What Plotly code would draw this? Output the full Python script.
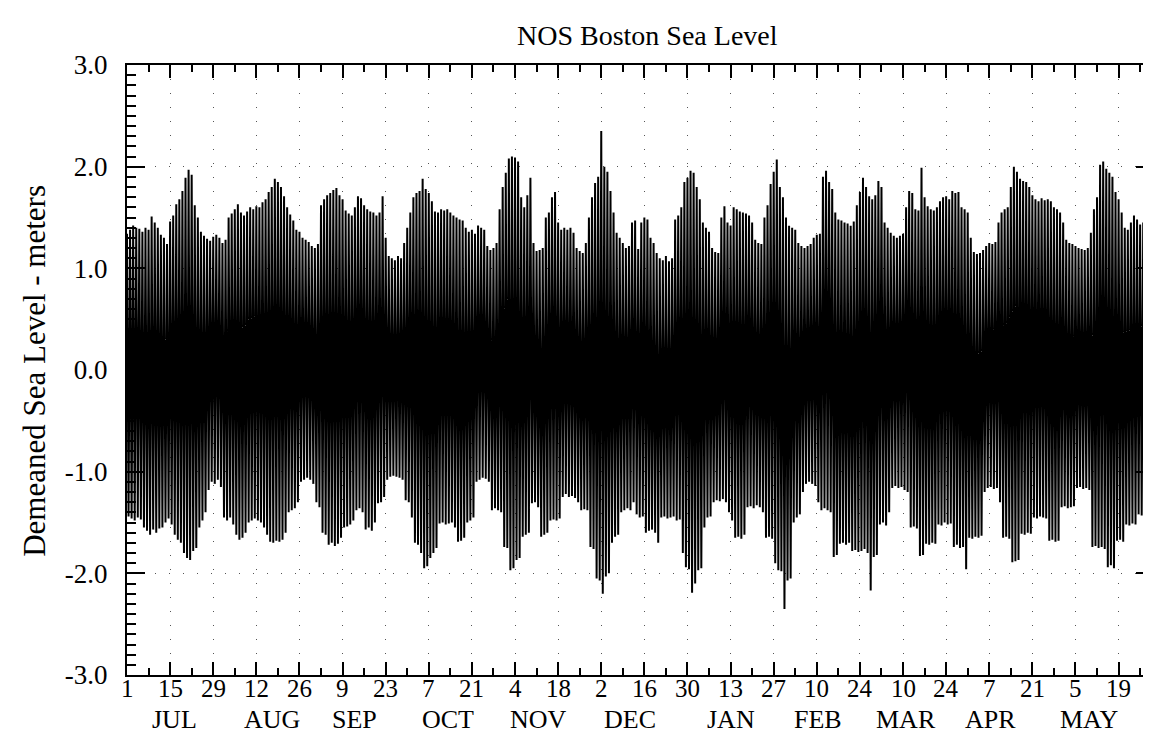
import plotly.graph_objects as go

# Daily maximum (high water) and minimum (low water), metres, day 0 = 1 July
high = [
    1.34, 1.38, 1.42, 1.40, 1.39, 1.36, 1.40, 1.38, 1.51, 1.45,
    1.40, 1.33, 1.30, 1.24, 1.46, 1.52, 1.63, 1.68, 1.76, 1.89,
    1.97, 1.92, 1.62, 1.50, 1.36, 1.32, 1.29, 1.27, 1.31, 1.33,
    1.30, 1.25, 1.28, 1.50, 1.54, 1.58, 1.63, 1.55, 1.52, 1.56,
    1.60, 1.58, 1.61, 1.60, 1.65, 1.68, 1.75, 1.80, 1.88, 1.85,
    1.80, 1.71, 1.60, 1.53, 1.47, 1.38, 1.36, 1.30, 1.28, 1.26,
    1.22, 1.20, 1.24, 1.62, 1.68, 1.72, 1.74, 1.77, 1.79, 1.72,
    1.68, 1.57, 1.54, 1.52, 1.60, 1.71, 1.69, 1.62, 1.58, 1.56,
    1.55, 1.52, 1.55, 1.71, 1.30, 1.12, 1.10, 1.08, 1.12, 1.10,
    1.25, 1.40, 1.55, 1.70, 1.74, 1.76, 1.88, 1.78, 1.74, 1.66,
    1.56, 1.55, 1.58, 1.57, 1.58, 1.55, 1.52, 1.50, 1.48, 1.47,
    1.40, 1.36, 1.38, 1.34, 1.42, 1.40, 1.38, 1.22, 1.18, 1.20,
    1.25, 1.58, 1.80, 1.94, 2.08, 2.10, 2.09, 2.05, 1.70, 1.60,
    1.72, 1.89, 1.25, 1.17, 1.18, 1.20, 1.50, 1.55, 1.70, 1.75,
    1.45, 1.38, 1.40, 1.38, 1.40, 1.35, 1.20, 1.17, 1.15, 1.25,
    1.50, 1.70, 1.84, 1.90, 2.35, 2.00, 1.95, 1.76, 1.55, 1.35,
    1.30, 1.25, 1.20, 1.22, 1.45, 1.47, 1.19, 1.45, 1.50, 1.48,
    1.30, 1.25, 1.15, 1.10, 1.08, 1.12, 1.07, 1.10, 1.48, 1.52,
    1.60, 1.85, 1.89, 1.96, 1.94, 1.80, 1.68, 1.45, 1.40, 1.36,
    1.20, 1.16, 1.15, 1.50, 1.61, 1.45, 1.42, 1.60, 1.58, 1.56,
    1.55, 1.54, 1.52, 1.45, 1.28, 1.25, 1.24, 1.50, 1.62, 1.83,
    1.95, 2.07, 1.80, 1.70, 1.50, 1.42, 1.40, 1.38, 1.25, 1.22,
    1.20, 1.22, 1.24, 1.30, 1.33, 1.34, 1.90, 1.96, 1.85, 1.78,
    1.55, 1.48, 1.47, 1.45, 1.44, 1.42, 1.46, 1.62, 1.75, 1.89,
    1.80, 1.71, 1.68, 1.72, 1.86, 1.80, 1.45, 1.40, 1.35, 1.32,
    1.30, 1.32, 1.34, 1.60, 1.76, 1.74, 1.58, 1.57, 1.99, 1.70,
    1.61, 1.58, 1.57, 1.60, 1.66, 1.70, 1.71, 1.68, 1.76, 1.74,
    1.75, 1.60, 1.58, 1.55, 1.30, 1.16, 1.14, 1.15, 1.18, 1.22,
    1.25, 1.24, 1.26, 1.45, 1.55, 1.58, 1.60, 1.80, 2.00, 1.95,
    1.88, 1.86, 1.85, 1.80, 1.72, 1.68, 1.66, 1.69, 1.67, 1.68,
    1.66, 1.60, 1.58, 1.55, 1.45, 1.28, 1.25, 1.24, 1.22, 1.20,
    1.19, 1.18, 1.20, 1.35, 1.58, 1.70, 2.02, 2.05, 1.98, 1.94,
    1.90, 1.75, 1.68, 1.55, 1.40, 1.38, 1.45, 1.52, 1.48, 1.43,
    1.45, 1.44, 1.48, 1.40,
]

low = [
    -1.44, -1.46, -1.48, -1.45, -1.47, -1.55, -1.58, -1.62, -1.57, -1.60,
    -1.56, -1.55, -1.50, -1.46, -1.52, -1.62, -1.67, -1.70, -1.80, -1.85,
    -1.87, -1.78, -1.75, -1.55, -1.48, -1.40, -1.18, -1.10, -1.12, -1.08,
    -1.15, -1.45, -1.48, -1.45, -1.52, -1.62, -1.67, -1.65, -1.60, -1.50,
    -1.48, -1.46, -1.48, -1.50, -1.55, -1.62, -1.69, -1.70, -1.68, -1.69,
    -1.67, -1.60, -1.40, -1.38, -1.36, -1.30, -1.10, -1.08, -1.06, -1.08,
    -1.12, -1.30, -1.35, -1.60, -1.62, -1.72, -1.70, -1.73, -1.71, -1.65,
    -1.55, -1.54, -1.52, -1.48, -1.38, -1.36, -1.40, -1.57, -1.55, -1.58,
    -1.50, -1.31, -1.30, -1.25, -1.08, -1.05, -1.04, -1.05, -1.06, -1.08,
    -1.28, -1.30, -1.45, -1.70, -1.72, -1.80, -1.95, -1.93, -1.85, -1.80,
    -1.75, -1.51, -1.50, -1.52, -1.51, -1.50, -1.55, -1.69, -1.68, -1.65,
    -1.50, -1.48, -1.45, -1.10, -1.08, -1.06, -1.07, -1.10, -1.38, -1.36,
    -1.38, -1.40, -1.74, -1.75, -1.97, -1.95, -1.87, -1.85, -1.64, -1.62,
    -1.60, -1.31, -1.30, -1.35, -1.64, -1.62, -1.60, -1.48, -1.47, -1.48,
    -1.46, -1.25, -1.22, -1.25, -1.24, -1.26, -1.30, -1.38, -1.37, -1.38,
    -1.74, -1.76, -2.05, -2.07, -2.20, -2.03, -2.00, -1.70, -1.64, -1.62,
    -1.40, -1.38, -1.36, -1.38, -1.30, -1.42, -1.45, -1.44, -1.60, -1.58,
    -1.57, -1.60, -1.70, -1.45, -1.44, -1.46, -1.45, -1.44, -1.48, -1.47,
    -1.80, -1.94, -1.96, -2.19, -2.10, -1.97, -1.95, -1.55, -1.45, -1.44,
    -1.30, -1.28, -1.29, -1.27, -1.30, -1.40, -1.48, -1.65, -1.64, -1.66,
    -1.62, -1.35, -1.34, -1.36, -1.33, -1.35, -1.40, -1.65, -1.64, -1.66,
    -1.90, -1.97, -1.98, -2.35, -2.07, -2.05, -1.50, -1.45, -1.42, -1.20,
    -1.12, -1.10, -1.12, -1.14, -1.30, -1.38, -1.36, -1.38, -1.40, -1.84,
    -1.82, -1.71, -1.70, -1.72, -1.70, -1.78, -1.77, -1.79, -1.78, -1.76,
    -1.80, -2.17, -1.84, -1.82, -1.52, -1.50, -1.53, -1.40, -1.16, -1.14,
    -1.16, -1.15, -1.18, -1.20, -1.55, -1.54, -1.56, -1.83, -1.82, -1.71,
    -1.72, -1.70, -1.71, -1.52, -1.53, -1.50, -1.52, -1.51, -1.74, -1.72,
    -1.75, -1.74, -1.96, -1.65, -1.66, -1.64, -1.65, -1.63, -1.20, -1.16,
    -1.15, -1.17, -1.16, -1.30, -1.65, -1.64, -1.66, -1.89, -1.88, -1.87,
    -1.61, -1.62, -1.60, -1.61, -1.45, -1.46, -1.44, -1.45, -1.46, -1.68,
    -1.67, -1.69, -1.68, -1.35, -1.34, -1.36, -1.35, -1.34, -1.16, -1.15,
    -1.17, -1.16, -1.18, -1.74, -1.73, -1.75, -1.74, -1.76, -1.94, -1.92,
    -1.95, -1.68, -1.67, -1.69, -1.52, -1.53, -1.51, -1.52, -1.42, -1.43,
    -1.42, -1.44, -1.40, -1.45,
]

days = list(range(len(high)))

tick_labels = ["1", "15", "29", "12", "26", "9", "23", "7", "21", "4", "18", "2",
               "16", "30", "13", "27", "10", "24", "10", "24", "7", "21", "5", "19"]
tick_days = [14 * i for i in range(len(tick_labels))]

y_tick_vals = [-3, -2, -1, 0, 1, 2, 3]
y_tick_labels = ["-3.0", "-2.0", "-1.0", "0.0", "1.0", "2.0", "3.0"]

month_names = ["JUL", "AUG", "SEP", "OCT", "NOV", "DEC",
               "JAN", "FEB", "MAR", "APR", "MAY"]

# layout: label centres (in days) for the month names
month_label_pos = [15.5, 47, 74, 104.3, 133.6, 163.4, 196, 224.5, 253, 280.5, 312.5]

# zig-zag between daily high and low water
xs, ys = [], []
for d, h, l in zip(days, high, low):
    xs += [d, d + 0.5]
    ys += [h, l]

SERIF = "Liberation Serif, Times New Roman, serif"
X_RANGE = [0, 333.5]
Y_RANGE = [-3, 3]

fig = go.Figure()
fig.add_trace(go.Scatter(x=xs, y=ys, mode="lines",
                         line=dict(color="black", width=2.0),
                         hoverinfo="skip", showlegend=False))
# empty trace to carry the mirrored (top / right) axes
fig.add_trace(go.Scatter(x=[], y=[], xaxis="x2", yaxis="y2",
                         mode="lines", hoverinfo="skip", showlegend=False))

line_common = dict(showline=True, linecolor="black", linewidth=2,
                   ticks="inside", tickcolor="black", tickwidth=2, zeroline=False)

x_minor = dict(ticks="inside", ticklen=7, tickwidth=2, tickcolor="black",
               tickmode="linear", tick0=0, dtick=7, showgrid=False)
y_minor = dict(ticks="inside", ticklen=9, tickwidth=2, tickcolor="black",
               tickmode="linear", tick0=-3, dtick=0.1, showgrid=False)

fig.update_layout(
    xaxis=dict(**line_common, range=X_RANGE, tickmode="array", tickvals=tick_days,
               ticklen=13, showticklabels=False, minor=x_minor,
               showgrid=True, gridcolor="#555555", gridwidth=1, griddash="1px,13px"),
    yaxis=dict(**line_common, range=Y_RANGE, tickmode="array",
               tickvals=y_tick_vals, ticktext=y_tick_labels, ticklen=18,
               tickfont=dict(family=SERIF, size=27, color="black"),
               ticklabelstandoff=12, minor=y_minor,
               showgrid=True, gridcolor="#555555", gridwidth=1, griddash="1px,13px"),
    xaxis2=dict(**line_common, range=X_RANGE, overlaying="x", side="top",
                anchor="y", tickmode="array", tickvals=tick_days, ticklen=13,
                showticklabels=False, minor=x_minor, showgrid=False),
    yaxis2=dict(**line_common, range=Y_RANGE, overlaying="y", side="right",
                anchor="x", tickmode="array", tickvals=y_tick_vals, ticklen=18,
                showticklabels=False, minor=y_minor, showgrid=False),
)

annotations = [
    dict(text="NOS Boston Sea Level", x=0.5068, y=1.049, xref="paper", yref="paper",
         showarrow=False, xanchor="center", yanchor="middle",
         font=dict(family=SERIF, size=28, color="black")),
    dict(text="Demeaned Sea Level - meters", x=-0.0896, y=0.4986, xref="paper",
         yref="paper", textangle=-90, showarrow=False,
         xanchor="center", yanchor="middle",
         font=dict(family=SERIF, size=31, color="black")),
]
for lab, d in zip(tick_labels, tick_days):
    annotations.append(dict(text=lab, x=d, y=-0.022, xref="x", yref="paper",
                            showarrow=False, xanchor="center", yanchor="middle",
                            font=dict(family=SERIF, size=25, color="black")))
for name, pos in zip(month_names, month_label_pos):
    annotations.append(dict(text=name, x=pos, y=-0.073, xref="x", yref="paper",
                            showarrow=False, xanchor="center", yanchor="middle",
                            font=dict(family=SERIF, size=26, color="black")))

fig.update_layout(
    width=1151, height=735, autosize=False,
    margin=dict(l=119, r=5, t=57, b=68),
    paper_bgcolor="white", plot_bgcolor="white",
    annotations=annotations,
    showlegend=False,
)

fig.write_html("out.html")
